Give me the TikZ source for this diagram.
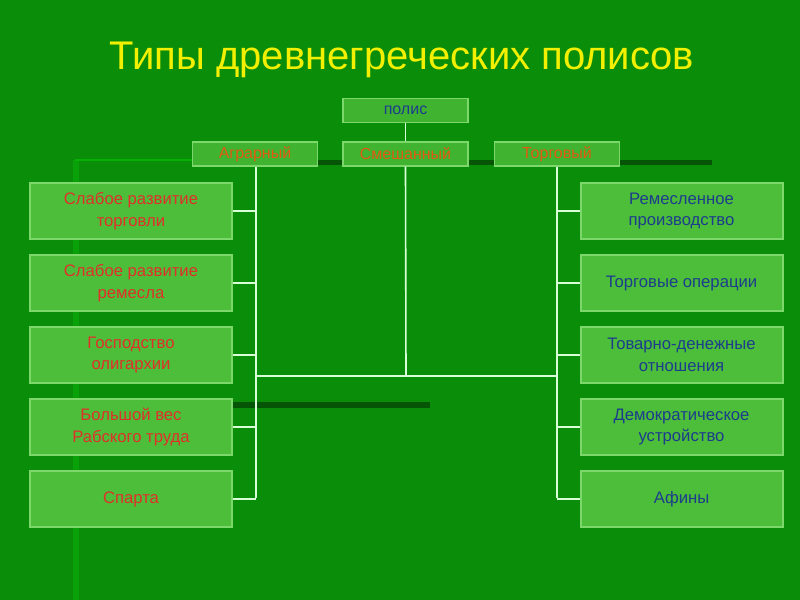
\documentclass[tikz,border=0pt]{standalone}
\usepackage{fontspec}
\setmainfont{Liberation Sans}
\definecolor{bg}{HTML}{0A8E0A}
\definecolor{boxf}{HTML}{4DBE3A}
\definecolor{boxl}{HTML}{7CD86A}
\definecolor{boxd}{HTML}{2E8E22}
\definecolor{redt}{HTML}{E0302A}
\definecolor{bluet}{HTML}{1C3C8C}
\definecolor{oranget}{HTML}{E05A10}
\definecolor{titley}{HTML}{F2F000}
\tikzset{
  lvbox/.style={fill=boxf,draw=boxl,line width=1.5pt,minimum width=202*0.75pt,minimum height=56*0.75pt,align=center,font=\fontsize{12.5}{16}\selectfont},
  topbox/.style={fill=boxf!80!bg,draw=boxl,line width=1pt,minimum width=125*0.75pt,minimum height=24*0.75pt,inner sep=0pt,font=\fontsize{12}{12}\selectfont},
  wl/.style={draw=white!85!green,line width=1.2pt}
}
\begin{document}
\begin{tikzpicture}[x=0.75pt,y=-0.75pt]
\fill[bg] (0,0) rectangle (800,600);
\useasboundingbox (0,0) rectangle (800,600);
% faint decorations
\fill[green!30!bg,opacity=0.6] (73,160) rectangle (79,600);
\fill[black!40!bg] (70,402) rectangle (430,408);
\fill[black!40!bg] (318,160) rectangle (712,165);
\draw[green!30!bg,line width=1pt] (75,160) -- (192,160);
\node[font=\fontsize{30}{32}\selectfont,text=titley] (title) at (402,60) {Типы древнегреческих полисов};
\node[topbox,text=bluet] (polis) at (405.5,110.5) {полис};
\node[topbox,text=oranget] (agr) at (255,154) {Аграрный};
\node[topbox,text=oranget] (mix) at (405.5,154) {Смешанный};
\node[topbox,text=oranget] (trd) at (557,154) {Торговый};
\foreach \i/\t in {1/{Слабое развитие\\торговли},2/{Слабое развитие\\ремесла},3/{Господство\\олигархии},4/{Большой вес\\Рабского труда},5/{Спарта}}{
  \node[lvbox,text=redt] (l\i) at (131,211+72*\i-72) {\t};
}
\foreach \i/\t in {1/{Ремесленное\\производство},2/{Торговые операции},3/{Товарно-денежные\\отношения},4/{Демократическое\\устройство},5/{Афины}}{
  \node[lvbox,text=bluet] (r\i) at (681.5,211+72*\i-72) {\t};
}
\coordinate (lb) at (256,498);
\coordinate (rb) at (557,498);
\coordinate (mb) at (406,376);
\draw[wl] (polis.south) -- (mix.north);
\draw[wl] (mix.south) -- (mb);
\draw[wl] (agr.south -| lb) -- (lb);
\draw[wl] (trd.south -| rb) -- (rb);
\draw[wl] (256,376) -- (557,376);
\foreach \i in {1,...,5}{
  \draw[wl] (l\i.east) -- (l\i.east -| lb);
  \draw[wl] (r\i.west) -- (r\i.west -| rb);
}
\end{tikzpicture}
\end{document}
